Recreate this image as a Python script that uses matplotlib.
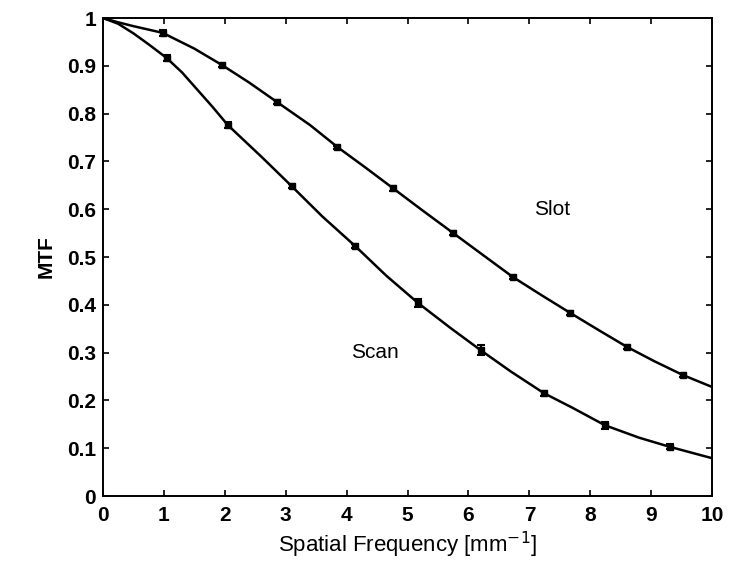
import matplotlib
matplotlib.use('Agg')
import numpy as np
import matplotlib.pyplot as plt

plt.rcParams.update({
    'font.family': ['Liberation Sans', 'DejaVu Sans'],
    'xtick.direction': 'in',
    'ytick.direction': 'in',
    'xtick.top': True,
    'ytick.right': True,
})

# Slot curve
slot_x = [0, 0.25, 0.5, 0.98, 1.5, 1.95, 2.4, 2.86, 3.4, 3.85, 4.3, 4.76,
          5.25, 5.75, 6.25, 6.73, 7.2, 7.67, 8.15, 8.6, 9.05, 9.52, 10]
slot_y = [1.0, 0.991, 0.983, 0.969, 0.936, 0.902, 0.865, 0.824, 0.776, 0.73,
          0.688, 0.644, 0.597, 0.55, 0.503, 0.458, 0.42, 0.383, 0.346, 0.312,
          0.282, 0.253, 0.228]
# Slot measured points with error bars
slot_px = [0.98, 1.95, 2.86, 3.85, 4.76, 5.75, 6.73, 7.67, 8.6, 9.52]
slot_py = [0.969, 0.902, 0.824, 0.73, 0.644, 0.55, 0.458, 0.383, 0.312, 0.253]
slot_err = [0.006, 0.004, 0.004, 0.003, 0.005, 0.004, 0.003, 0.005, 0.004, 0.004]

# Scan curve
scan_x = [0, 0.25, 0.5, 0.75, 1.05, 1.3, 1.55, 1.8, 2.05, 2.6, 3.1, 3.6,
          4.14, 4.65, 5.17, 5.7, 6.2, 6.7, 7.24, 7.7, 8.24, 8.8, 9.3, 10]
scan_y = [1.0, 0.988, 0.968, 0.945, 0.916, 0.886, 0.85, 0.814, 0.776, 0.71,
          0.648, 0.585, 0.523, 0.461, 0.404, 0.352, 0.305, 0.26, 0.215, 0.185,
          0.148, 0.122, 0.103, 0.079]
scan_px = [1.05, 2.05, 3.1, 4.14, 5.17, 6.2, 7.24, 8.24, 9.3]
scan_py = [0.916, 0.776, 0.648, 0.523, 0.404, 0.305, 0.215, 0.148, 0.103]
scan_err = [0.006, 0.006, 0.004, 0.005, 0.008, 0.01, 0.005, 0.007, 0.005]

fig = plt.figure(figsize=(7.35, 5.63), dpi=100)
ax = fig.add_axes([0.140, 0.119, 0.829, 0.849])

for x, y, px, py, err in [(slot_x, slot_y, slot_px, slot_py, slot_err),
                          (scan_x, scan_y, scan_px, scan_py, scan_err)]:
    ax.plot(x, y, color='black', lw=1.8, solid_joinstyle='round')
    ax.errorbar(px, py, yerr=err, fmt='s', color='black', ms=4,
                capsize=3, elinewidth=1.5, capthick=1.5)

ax.text(7.37, 0.60, 'Slot', fontsize=15, ha='center', va='center')
ax.text(4.47, 0.30, 'Scan', fontsize=15, ha='center', va='center')

ax.set_xlim(0, 10)
ax.set_ylim(0, 1)
ax.set_xticks(range(0, 11))
ax.set_yticks(np.arange(0, 1.01, 0.1))
ax.set_yticklabels(['0', '0.1', '0.2', '0.3', '0.4', '0.5', '0.6', '0.7',
                    '0.8', '0.9', '1'])
ax.tick_params(length=4, width=1.2, labelsize=15)
ax.tick_params(axis='y', pad=5)
ax.tick_params(axis='x', pad=7)
for lab in ax.get_xticklabels() + ax.get_yticklabels():
    lab.set_fontweight('bold')
for sp in ax.spines.values():
    sp.set_linewidth(1.4)

ax.set_xlabel('Spatial Frequency [mm$^{-1}$]', fontsize=16, labelpad=4)
ax.set_ylabel('MTF', fontsize=15, fontweight='bold', labelpad=8)

fig.savefig('out.png', dpi=100)
